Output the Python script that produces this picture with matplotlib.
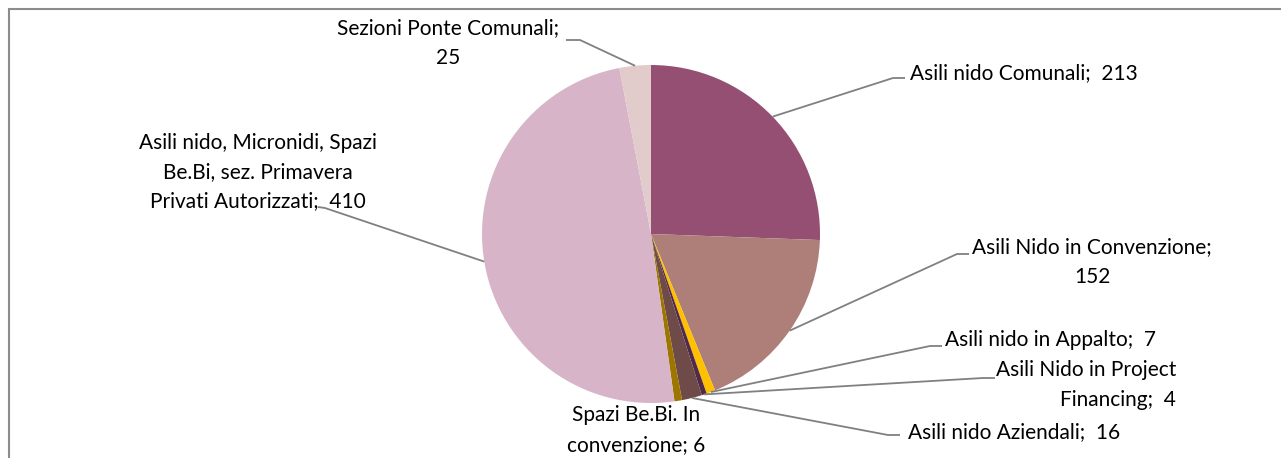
import numpy as np
import matplotlib
matplotlib.use("Agg")
import matplotlib.pyplot as plt
from matplotlib.patches import Rectangle

plt.rcParams['font.family'] = ['Lato', 'DejaVu Sans']

categories = [
    "Asili nido Comunali",
    "Asili Nido in Convenzione",
    "Asili nido in Appalto",
    "Asili Nido in Project Financing",
    "Asili nido Aziendali",
    "Spazi Be.Bi. In convenzione",
    "Asili nido, Micronidi, Spazi Be.Bi, sez. Primavera Privati Autorizzati",
    "Sezioni Ponte Comunali",
]
values = [213, 152, 7, 4, 16, 6, 410, 25]
label_texts = [
    "Asili nido Comunali;  213",
    "Asili Nido in Convenzione;\n152",
    "Asili nido in Appalto;  7",
    "Asili Nido in Project\nFinancing;  4",
    "Asili nido Aziendali;  16",
    "Spazi Be.Bi. In\nconvenzione; 6",
    "Asili nido, Micronidi, Spazi\nBe.Bi, sez. Primavera\nPrivati Autorizzati;  410",
    "Sezioni Ponte Comunali;\n25",
]
colors = ["#954F72", "#AD7F78", "#FFC000", "#512A48", "#6E4A48",
          "#9C7600", "#D7B4C7", "#E1CBCB"]

W, H = 1281, 458
fig = plt.figure(figsize=(W / 100, H / 100), dpi=100)
ax = fig.add_axes([0, 0, 1, 1])

def Y(py):
    return H - py

cx, cy, r = 651, Y(234), 169
wedges, _ = ax.pie(values, colors=colors, startangle=90, counterclock=False,
                   center=(cx, cy), radius=r, frame=True,
                   wedgeprops=dict(linewidth=0))
ax.set_xlim(0, W)
ax.set_ylim(0, H)
ax.set_axis_off()

# border of chart area
ax.add_patch(Rectangle((8.5, Y(8.5) - 600), 1400, 600, fill=False,
                       edgecolor="#8C8C8C", linewidth=1.5))

# label layout: (text x, text y, ha, elbow, line end)  in pixel coords
layout = [
    (910, 73, 'left', (893, 78), (905, 78)),
    (1092, 262, 'center', (957, 254), (969, 254)),
    (945, 340, 'left', (930, 346), (942, 346)),
    (1176, 385, 'right', (983, 378), (995, 378)),
    (908, 432, 'left', (888, 435), (900, 435)),
    (636, 430, 'center', None, None),
    (258, 172, 'center', (325, 208), (318, 207)),
    (448, 43, 'center', (580, 40), (566, 40)),
]

total = sum(values)
cum = np.cumsum([0] + values)
line_col = "#808080"
for i, (tx, ty, ha, elbow, end) in enumerate(layout):
    mid = 90 - 360 * (cum[i] + values[i] / 2) / total
    a = np.deg2rad(mid)
    px, py = cx + r * np.cos(a), cy + r * np.sin(a)
    if elbow is not None:
        ax.plot([px, elbow[0], end[0]], [py, Y(elbow[1]), Y(end[1])],
                color=line_col, linewidth=1.3, solid_capstyle='butt')
    ax.text(tx, Y(ty), label_texts[i], ha=ha, va='center', multialignment=ha,
            fontsize=15, color="#000000", linespacing=1.58)

fig.savefig("out.png", dpi=100)
